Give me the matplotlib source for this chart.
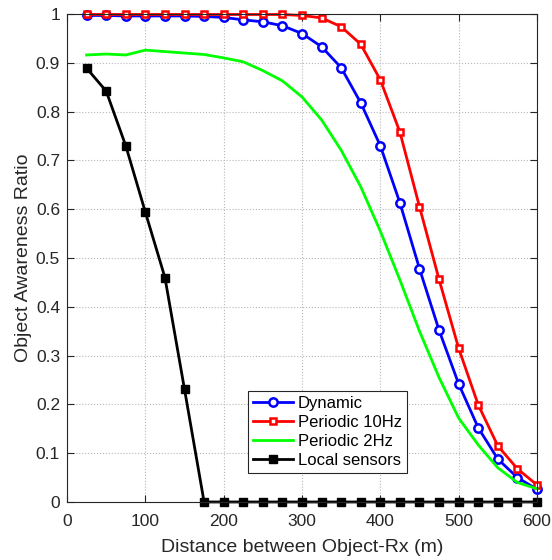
import numpy as np
import matplotlib
matplotlib.use("Agg")
import matplotlib.pyplot as plt

plt.rcParams['font.family'] = ['Liberation Sans', 'DejaVu Sans']

# distance (m)
dist = [25, 50, 75, 100, 125, 150, 175, 200, 225, 250, 275, 300,
        325, 350, 375, 400, 425, 450, 475, 500, 525, 550, 575, 600]

dynamic = [0.997, 0.997, 0.996, 0.996, 0.996, 0.996, 0.995, 0.993, 0.988, 0.984,
           0.976, 0.960, 0.933, 0.890, 0.818, 0.730, 0.613, 0.478, 0.352, 0.242,
           0.152, 0.088, 0.050, 0.026]
periodic_10 = [0.999, 0.999, 0.999, 0.999, 0.999, 0.999, 0.999, 0.999, 0.999, 0.999,
               0.999, 0.997, 0.992, 0.974, 0.938, 0.865, 0.758, 0.605, 0.456, 0.315,
               0.199, 0.115, 0.068, 0.035]
periodic_2 = [0.916, 0.918, 0.916, 0.926, 0.923, 0.920, 0.917, 0.910, 0.902, 0.884,
              0.863, 0.830, 0.783, 0.721, 0.646, 0.555, 0.455, 0.350, 0.255, 0.172,
              0.117, 0.070, 0.040, 0.027]
local = [0.889, 0.842, 0.730, 0.594, 0.460, 0.231, 0, 0, 0, 0, 0, 0,
         0, 0, 0, 0, 0, 0, 0, 0, 0, 0, 0, 0]

fig = plt.figure(figsize=(5.52, 5.60), dpi=100)
ax = fig.add_axes([0.1214, 0.1036, 0.8514, 0.8714])

ax.plot(dist, dynamic, color='#0000ff', lw=2, marker='o', ms=6, mfc='white',
        mew=1.8, label='Dynamic', clip_on=False)
ax.plot(dist, periodic_10, color='#ff0000', lw=2, marker='s', ms=5, mfc='white',
        mew=1.8, label='Periodic 10Hz', clip_on=False)
ax.plot(dist, periodic_2, color='#00ff00', lw=2, label='Periodic 2Hz', clip_on=False)
ax.plot(dist, local, color='black', lw=2, marker='s', ms=6, label='Local sensors',
        clip_on=False)

ax.set_xlim(0, 600)
ax.set_ylim(0, 1)
ax.set_xticks(np.arange(0, 601, 100))
ax.set_yticks(np.arange(0, 1.01, 0.1))
ax.set_yticklabels(['0', '0.1', '0.2', '0.3', '0.4', '0.5', '0.6', '0.7', '0.8', '0.9', '1'])
ax.tick_params(direction='in', top=True, right=True, labelsize=12.5, colors='#262626',
               length=5, width=0.8, pad=5)
ax.tick_params(axis='x', pad=9)
for s in ax.spines.values():
    s.set_color('#262626')
    s.set_linewidth(0.8)
ax.grid(True, color='#b8b8b8', linestyle=':', linewidth=0.8)

ax.set_xlabel('Distance between Object-Rx (m)', fontsize=14, color='#262626', labelpad=7)
ax.set_ylabel('Object Awareness Ratio', fontsize=14, color='#262626', labelpad=3)

leg = ax.legend(loc='lower left', bbox_to_anchor=(0.385, 0.059), fontsize=12,
                fancybox=False, framealpha=1, edgecolor='#262626',
                borderpad=0.3, handlelength=2.4, handletextpad=0.3, labelspacing=0.25,
                borderaxespad=0)
leg.get_frame().set_linewidth(0.8)

fig.savefig('out.png', dpi=100)
